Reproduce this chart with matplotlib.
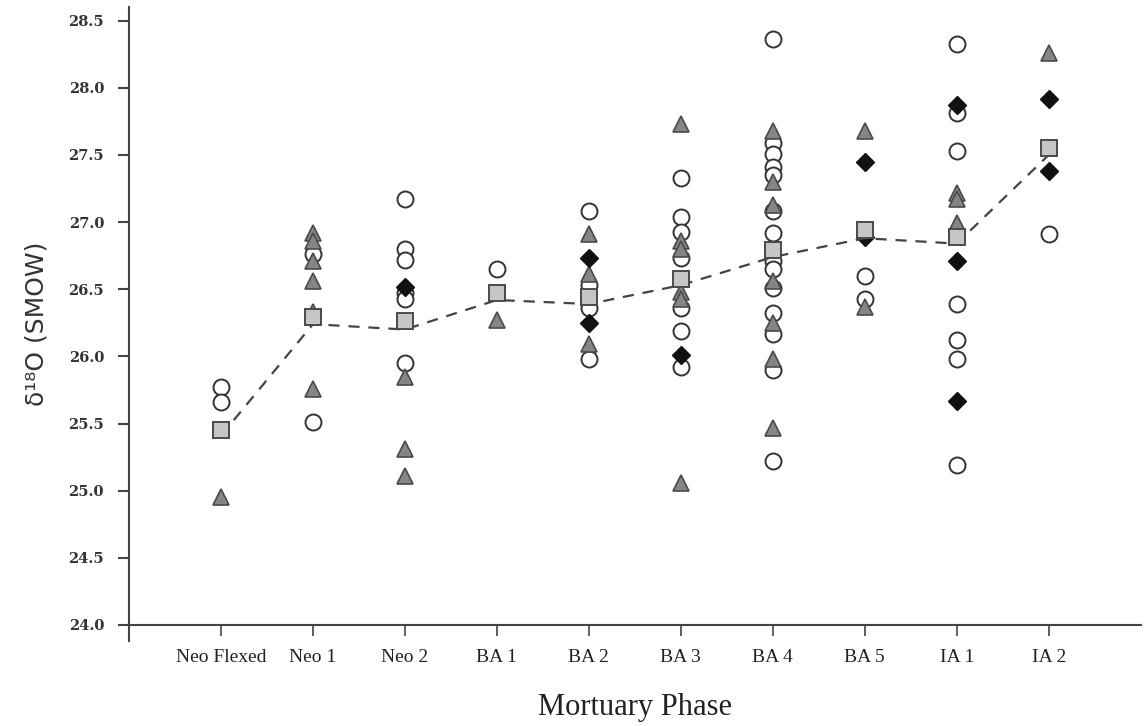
import matplotlib
matplotlib.use('Agg')
import matplotlib.pyplot as plt
import numpy as np

phases = ['Neo Flexed', 'Neo 1', 'Neo 2', 'BA 1', 'BA 2', 'BA 3', 'BA 4', 'BA 5', 'IA 1', 'IA 2']

circles = [[25.77, 25.66],
           [26.76, 25.51],
           [27.17, 26.80, 26.72, 26.47, 26.43, 25.95],
           [26.65],
           [27.08, 26.53, 26.36, 25.98],
           [27.33, 27.04, 26.93, 26.73, 26.36, 26.19, 25.92],
           [28.36, 27.59, 27.51, 27.41, 27.35, 27.08, 26.92, 26.71, 26.65, 26.51, 26.32, 26.17, 25.90, 25.22],
           [26.60, 26.43],
           [28.33, 27.81, 27.53, 26.39, 26.12, 25.98, 25.19],
           [26.91]]

triangles = [[24.95],
             [26.92, 26.86, 26.71, 26.56, 26.33, 25.76],
             [25.85, 25.31, 25.11],
             [26.27],
             [26.91, 26.61, 26.09],
             [27.73, 26.86, 26.80, 26.48, 26.43, 25.06],
             [27.68, 27.30, 27.13, 26.56, 26.25, 25.98, 25.47],
             [27.68, 26.37],
             [27.22, 27.17, 26.99],
             [28.26]]

diamonds = [[], [], [26.52], [], [26.73, 26.25], [26.01], [], [27.45, 26.89], [27.87, 26.71, 25.67], [27.92, 27.38]]

means = [25.45, 26.29, 26.26, 26.47, 26.44, 26.58, 26.79, 26.94, 26.89, 27.55]
trend = [25.41, 26.24, 26.20, 26.42, 26.39, 26.53, 26.74, 26.88, 26.84, 27.50]

fig = plt.figure(figsize=(11.47, 7.26), dpi=100)
ax = fig.add_axes([0.1125, 0.117, 0.882, 0.873])

pos = np.arange(1, len(phases) + 1)

for i in range(len(phases)):
    ax.plot([pos[i]] * len(circles[i]), circles[i], 'o', ms=11.5, mfc='white', mec='#333333', mew=1.4, zorder=3)
    ax.plot([pos[i]] * len(triangles[i]), triangles[i], '^', ms=11.5, mfc='#858585', mec='#4a4a4a', mew=1.2, zorder=4)
    ax.plot([pos[i]] * len(diamonds[i]), diamonds[i], 'D', ms=9, mfc='#111111', mec='#111111', mew=1, zorder=5)

ax.plot(pos, trend, '--', color='#444444', lw=1.6, dashes=(5, 4), zorder=6)
ax.plot(pos, means, 's', ms=11.5, mfc='#c6c6c6', mec='#4a4a4a', mew=1.4, zorder=7)

ax.set_xlim(0, 11)
ax.set_ylim(23.88, 28.6)
ax.spines['bottom'].set_position(('data', 24.0))
ax.spines['top'].set_visible(False)
ax.spines['right'].set_visible(False)
for s in ['left', 'bottom']:
    ax.spines[s].set_color('#444444')
    ax.spines[s].set_linewidth(1.5)

ax.set_yticks(np.arange(24.0, 28.51, 0.5))
ax.set_yticklabels(['%.1f' % v for v in np.arange(24.0, 28.51, 0.5)],
                   fontfamily='DejaVu Serif', fontweight='bold', fontsize=10.5, color='#333333')
ax.set_xticks(pos)
ax.set_xticklabels(phases, fontfamily='Liberation Serif', fontsize=14, color='#222222')
ax.tick_params(axis='y', direction='out', length=8, width=1.5, color='#444444', pad=10)
ax.tick_params(axis='x', direction='out', length=8, width=1.2, color='#444444', pad=9)

ax.set_xlabel('Mortuary Phase', fontfamily='Liberation Serif', fontsize=22, color='#222222', labelpad=20)
ax.set_ylabel('δ¹⁸O (SMOW)', fontfamily='DejaVu Sans', fontsize=18, color='#333333', labelpad=14)

fig.savefig('out.png', dpi=100)
